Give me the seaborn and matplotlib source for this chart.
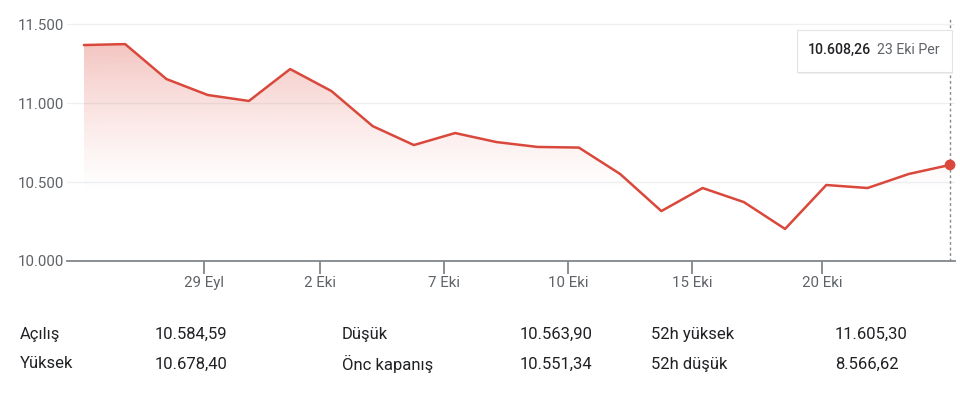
import numpy as np
import pandas as pd
import matplotlib
matplotlib.use("Agg")
import matplotlib.pyplot as plt
from matplotlib.patches import Rectangle, Polygon
import seaborn as sns

# ---- data ----
dates = ["24 Eyl", "25 Eyl", "26 Eyl", "29 Eyl", "30 Eyl", "1 Eki", "2 Eki", "3 Eki",
         "6 Eki", "7 Eki", "8 Eki", "9 Eki", "10 Eki", "13 Eki", "14 Eki", "15 Eki",
         "16 Eki", "17 Eki", "20 Eki", "21 Eki", "22 Eki", "23 Eki"]
values = [11367, 11373, 11152, 11051, 11013, 11215, 11076, 10854,
          10734, 10810, 10753, 10722, 10718, 10551, 10316, 10462,
          10373, 10203, 10481, 10462, 10551, 10608.26]
tick_labels = ["29 Eyl", "2 Eki", "7 Eki", "10 Eki", "15 Eki", "20 Eki"]
tick_pos = [2.91, 5.72, 8.73, 11.74, 14.74, 17.90]
y_ticks = [10000, 10500, 11000, 11500]
y_tick_labels = ["10.000", "10.500", "11.000", "11.500"]
tooltip_value = "10.608,26"
tooltip_date = "23 Eki Per"
stat_labels_1 = ["Açılış", "Yüksek"]
stat_values_1 = ["10.584,59", "10.678,40"]
stat_labels_2 = ["Düşük", "Önc kapanış"]
stat_values_2 = ["10.563,90", "10.551,34"]
stat_labels_3 = ["52h yüksek", "52h düşük"]
stat_values_3 = ["11.605,30", "8.566,62"]

sns.set_theme(style="white")
plt.rcParams['font.family'] = ['Roboto', 'DejaVu Sans']

RED = "#d9483b"
GRAY_TXT = "#5f6368"
DARK_TXT = "#202124"

df = pd.DataFrame({"i": np.arange(len(values)), "v": values})

fig = plt.figure(figsize=(9.6, 3.96), dpi=100)
ax = fig.add_axes([67/960, 1-261/396, (955-67)/960, (261-19.3)/396])

ax.set_xlim(-0.41, 21.12)
ax.set_ylim(10000, 11530)

# gridlines
for yt in y_ticks[1:]:
    ax.axhline(yt, color="#eef0f1", lw=1, zorder=0)

# gradient fill
poly_x = np.concatenate([[df.i.iloc[0]], df.i, [df.i.iloc[-1]]])
poly_y = np.concatenate([[10000], df.v, [10000]])
clip = Polygon(np.column_stack([poly_x, poly_y]), closed=True, transform=ax.transData,
               facecolor="none", edgecolor="none")
ax.add_patch(clip)
ny = 256
ys = np.linspace(10000, 11400, ny)
t = np.clip((ys - 10420) / (11400 - 10420), 0, 1)
alpha = (t ** 1.3) * 0.32
rgba = np.zeros((ny, 1, 4))
rgba[..., 0] = 0xdb / 255
rgba[..., 1] = 0x44 / 255
rgba[..., 2] = 0x37 / 255
rgba[..., 3] = alpha[:, None]
im = ax.imshow(rgba, extent=[0, len(values) - 1, 10000, 11400], origin="lower",
               aspect="auto", zorder=1)
im.set_clip_path(clip)

sns.lineplot(data=df, x="i", y="v", color=RED, lw=1.8, ax=ax, zorder=3)
ax.scatter([df.i.iloc[-1]], [df.v.iloc[-1]], s=60, color=RED, zorder=4, edgecolor="none", clip_on=False)

# dashed vertical line
ax.axvline(df.i.iloc[-1], color="#888888", lw=1, ls=(0, (2, 2)), zorder=2)

for s in ["top", "right", "left"]:
    ax.spines[s].set_visible(False)
ax.spines["bottom"].set_color("#80868b")
ax.spines["bottom"].set_linewidth(1.3)

ax.set_xticks(tick_pos)
ax.set_xticklabels(tick_labels)
ax.set_yticks(y_ticks)
ax.set_yticklabels(y_tick_labels)
ax.tick_params(axis="x", length=9, width=1.3, color="#80868b", labelsize=10.8,
               labelcolor=GRAY_TXT, pad=2, bottom=True)
ax.tick_params(axis="y", length=0, labelsize=10.8, labelcolor=GRAY_TXT, pad=2)
ax.set_xlabel("")
ax.set_ylabel("")

# tooltip
x0, y0, w, h = 797/960, 1-72/396, 155/960, 42/396
fig.patches.append(Rectangle((x0 + 0.0008, y0 - 0.006), w, h, transform=fig.transFigure,
                             facecolor="#000000", alpha=0.06, edgecolor="none", zorder=5))
fig.patches.append(Rectangle((x0, y0), w, h, transform=fig.transFigure,
                             facecolor="white", edgecolor="#e3e3e3", lw=0.8, zorder=6))
fig.text(808/960, 1-50/396, tooltip_value, fontsize=10.2, color=DARK_TXT,
         ha="left", va="center", fontweight="medium", zorder=7)
fig.text(877/960, 1-50/396, tooltip_date, fontsize=10.2, color=GRAY_TXT,
         ha="left", va="center", zorder=7)

# stats
rows_y = [1-334/396, 1-364/396]
cols = [(20, 155, stat_labels_1, stat_values_1),
        (342, 520, stat_labels_2, stat_values_2),
        (651, 835, stat_labels_3, stat_values_3)]
for lx, vx, labs, vals in cols:
    for ry, lab, val in zip(rows_y, labs, vals):
        fig.text(lx/960, ry, lab, fontsize=12, color=DARK_TXT, ha="left", va="center")
        fig.text(vx/960, ry, val, fontsize=12, color=DARK_TXT, ha="left", va="center")

fig.savefig("out.png", dpi=100, facecolor="white")
